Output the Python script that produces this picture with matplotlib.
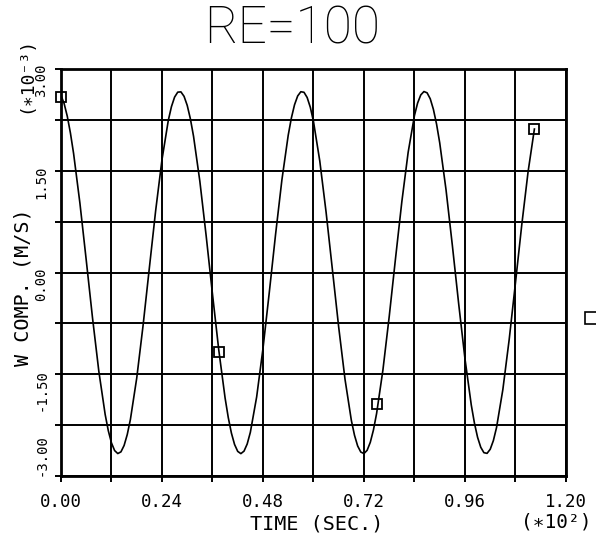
import matplotlib.pyplot as plt
from matplotlib.ticker import MultipleLocator

plt.rcParams['font.family'] = ['DejaVu Sans Mono', 'DejaVu Sans']

# valores (tiempo en *10^2 s, W en *10^-3 m/s)
tiempo = [0.000, 0.015, 0.030, 0.045, 0.060, 0.075, 0.090, 0.105, 0.120, 0.135,
          0.150, 0.165, 0.180, 0.195, 0.210, 0.225, 0.240, 0.255, 0.270, 0.285,
          0.300, 0.315, 0.330, 0.345, 0.360, 0.375, 0.390, 0.405, 0.420, 0.435,
          0.450, 0.465, 0.480, 0.495, 0.510, 0.525, 0.540, 0.555, 0.570, 0.585,
          0.600, 0.615, 0.630, 0.645, 0.660, 0.675, 0.690, 0.705, 0.720, 0.735,
          0.750, 0.765, 0.780, 0.795, 0.810, 0.825, 0.840, 0.855, 0.870, 0.885,
          0.900, 0.915, 0.930, 0.945, 0.960, 0.975, 0.990, 1.005, 1.020, 1.035,
          1.050, 1.065, 1.080, 1.095, 1.110, 1.125]
w_comp = [2.613, 2.303, 1.754, 1.023, 0.185, -0.671, -1.458, -2.092, -2.512, -2.669,
          -2.550, -2.166, -1.557, -0.786, 0.066, 0.912, 1.662, 2.241, 2.586, 2.663,
          2.464, 2.009, 1.346, 0.542, -0.317, -1.144, -1.850, -2.367, -2.637, -2.633,
          -2.356, -1.834, -1.122, -0.294, 0.565, 1.366, 2.024, 2.473, 2.665, 2.580,
          2.228, 1.644, 0.889, 0.043, -0.808, -1.576, -2.179, -2.557, -2.669, -2.504,
          -2.079, -1.439, -0.649, 0.209, 1.044, 1.772, 2.315, 2.618, 2.649, 2.405,
          1.912, 1.220, 0.402, -0.458, -1.271, -1.953, -2.430, -2.656, -2.606, -2.286,
          -1.727, -0.992, -0.152, 0.704, 1.486, 2.115]

# lecturas extra cerca de crestas y valles
tiempo_extra = [0.0075, 0.0225,
                0.1125, 0.1275, 0.1425, 0.1575,
                0.2625, 0.2775, 0.2925, 0.3075,
                0.3975, 0.4125, 0.4275, 0.4425,
                0.5475, 0.5625, 0.5775, 0.5925,
                0.6975, 0.7125, 0.7275, 0.7425,
                0.8475, 0.8625, 0.8775, 0.8925,
                0.9825, 0.9975, 1.0125, 1.0275]
w_extra = [2.491, 2.055,
           -2.333, -2.625, -2.644, -2.389,
           2.445, 2.659, 2.597, 2.266,
           -2.137, -2.535, -2.670, -2.528,
           2.278, 2.603, 2.657, 2.436,
           -2.399, -2.647, -2.621, -2.322,
           2.499, 2.668, 2.561, 2.188,
           -2.220, -2.576, -2.666, -2.478]

# simbolos cuadrados sobre la curva
t_simbolo = [0.0, 0.375, 0.75, 1.125]
w_simbolo = [2.59, -1.17, -1.94, 2.12]

xticks = [0.0, 0.24, 0.48, 0.72, 0.96, 1.20]
xtick_labels = ['0.00', '0.24', '0.48', '0.72', '0.96', '1.20']
yticks = [-3.0, -1.5, 0.0, 1.5, 3.0]
ytick_labels = ['-3.00', '-1.50', '0.00', '1.50', '3.00']

puntos = sorted(zip(tiempo + tiempo_extra, w_comp + w_extra))
t_curva = [p[0] for p in puntos]
w_curva = [p[1] for p in puntos]

fig = plt.figure(figsize=(5.96, 5.40), dpi=100)
ax = fig.add_axes([0.1023, 0.1185, 0.8473, 0.7537])

ax.plot(t_curva, w_curva, color='black', lw=1.2)
ax.plot(t_simbolo, w_simbolo, ls='none', marker='s', ms=7, mfc='none',
        mec='black', mew=1.3, clip_on=False)
# simbolo suelto a la derecha del grafico
ax.plot([1.05], [0.388], transform=ax.transAxes, ls='none', marker='s', ms=8,
        mfc='none', mec='black', mew=1.2, clip_on=False)

ax.set_xlim(0, 1.2)
ax.set_ylim(-3, 3)
ax.set_xticks(xticks)
ax.set_xticklabels(xtick_labels)
ax.set_yticks(yticks)
ax.set_yticklabels(ytick_labels)
ax.xaxis.set_minor_locator(MultipleLocator(0.12))
ax.yaxis.set_minor_locator(MultipleLocator(0.75))
ax.grid(True, which='both', color='black', lw=1.4)
ax.set_axisbelow(True)
ax.tick_params(which='both', direction='out', length=4, width=1.4, color='black')
ax.tick_params(axis='x', labelsize=12.5, pad=8)
ax.tick_params(axis='y', labelsize=10, pad=5, labelrotation=90)
ax.get_yticklabels()[0].set_va('bottom')
for s in ax.spines.values():
    s.set_linewidth(2)

fig.text(0.49, 0.920, 'RE=100', ha='center', va='baseline', fontsize=37,
         family='Roboto', weight='light')
fig.text(0.532, 0.020, 'TIME (SEC.)', ha='center', va='baseline', fontsize=14.5)
fig.text(0.934, 0.024, '(∗10²)', ha='center', va='baseline', fontsize=14)
fig.text(0.047, 0.4685, 'W COMP. (M/S)', rotation=90, rotation_mode='anchor',
         ha='center', va='baseline', fontsize=14.5)
fig.text(0.052, 0.861, '(∗10⁻³)', rotation=90, rotation_mode='anchor',
         ha='center', va='baseline', fontsize=13)

fig.savefig('out.png', dpi=100)
